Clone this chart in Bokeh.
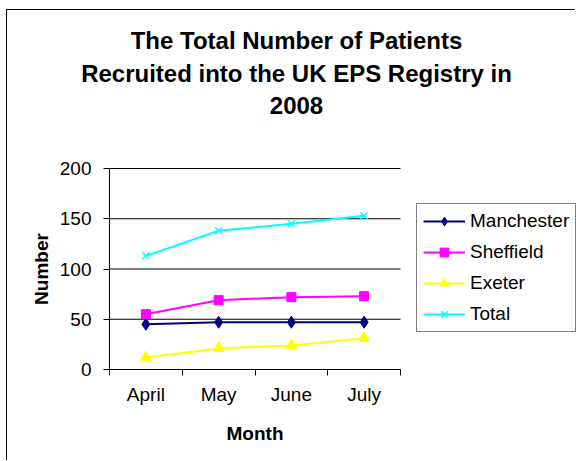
import numpy as np
from bokeh.plotting import figure
from bokeh.models import Range1d, FixedTicker, Legend, LegendItem, Label
from bokeh.embed import file_html
from bokeh.resources import INLINE

# ---- data ----
months = ["April", "May", "June", "July"]
manchester = [45, 47, 47, 47]
sheffield = [55, 69, 72, 73]
exeter = [12, 21, 24, 31]
total = [113, 138, 145, 153]
y_ticks = [0, 50, 100, 150, 200]
title_lines = ["The Total Number of Patients",
               "Recruited into the UK EPS Registry in",
               "2008"]
series_names = ["Manchester", "Sheffield", "Exeter", "Total"]

FONT = "Liberation Sans"
W, H = 569, 451            # canvas, placed at page (7, 10) inside a 1px frame
LEFT, BOTTOM = 102, 92     # plot-area offsets inside the canvas
PLOT_W, PLOT_H = 291, 201  # pixel size of the plot area (x 0..n, y 0..ymax)

n = len(months)
ymax = y_ticks[-1]
xs_per_px = n / PLOT_W
ys_per_px = ymax / PLOT_H

p = figure(width=W, height=H, output_backend="svg", toolbar_location=None,
           x_range=Range1d(-LEFT * xs_per_px, (W - LEFT) * xs_per_px),
           y_range=Range1d(-BOTTOM * ys_per_px, (H - BOTTOM) * ys_per_px),
           min_border=0, min_border_left=0, min_border_right=0,
           min_border_top=0, min_border_bottom=0)
p.styles = {"border-left": "1px solid black", "border-top": "1px solid black",
            "margin-left": "6px", "margin-top": "9px"}
p.background_fill_color = "white"
p.border_fill_color = "white"
p.outline_line_color = None

x = np.arange(n) + 0.5

# ---- axes (placed at the origin of the plot area) ----
xa = p.xaxis[0]
xa.fixed_location = 0
xa.bounds = (0, n)
xa.ticker = FixedTicker(ticks=[float(v) for v in x],
                        minor_ticks=[float(v) for v in range(n + 1)])
xa.major_label_overrides = {float(xi): m for xi, m in zip(x, months)}
xa.major_tick_line_color = None
xa.major_tick_out = 0
xa.major_tick_in = 0
xa.minor_tick_line_color = "black"
xa.minor_tick_out = 6
xa.minor_tick_in = 0
xa.axis_line_color = "black"
xa.major_label_standoff = 8
xa.major_label_text_font = FONT
xa.major_label_text_font_size = "19px"
xa.major_label_text_color = "black"

ya = p.yaxis[0]
ya.fixed_location = 0
ya.bounds = (0, ymax)
ya.ticker = FixedTicker(ticks=y_ticks, minor_ticks=[])
ya.major_tick_line_color = "black"
ya.major_tick_out = 6
ya.major_tick_in = 0
ya.minor_tick_line_color = None
ya.axis_line_color = "black"
ya.major_label_standoff = 12
ya.major_label_text_font = FONT
ya.major_label_text_font_size = "19px"
ya.major_label_text_color = "black"

p.xgrid.visible = False
p.ygrid.visible = False
# horizontal gridlines limited to the plot area (x from 0 to n)
p.segment(x0=[0] * len(y_ticks), x1=[n] * len(y_ticks), y0=y_ticks, y1=y_ticks,
          line_color="black", line_width=1)

# ---- axis titles ----
p.add_layout(Label(x=n / 2, y=28.4, x_units="data", y_units="screen",
                   text="Month", text_align="center", text_baseline="alphabetic",
                   text_font=FONT, text_font_style="bold", text_font_size="19px",
                   text_color="black"))
p.add_layout(Label(x=34.3, y=ymax / 2, x_units="screen", y_units="data",
                   text="Number", angle=np.pi / 2, text_align="center",
                   text_baseline="alphabetic",
                   text_font=FONT, text_font_style="bold", text_font_size="19px",
                   text_color="black"))

# ---- series ----
styles = [("#000080", "diamond", 12),
          ("#FF00FF", "square", 9),
          ("#FFFF00", "triangle", 11),
          ("#00FFFF", "x", 10)]
values = [manchester, sheffield, exeter, total]

items = []
for name, vals, (col, mk, sz) in zip(series_names, values, styles):
    lr = p.line(x, vals, line_color=col, line_width=2)
    sr = p.scatter(x, vals, marker=mk, size=sz, fill_color=col,
                   line_color=col, line_width=1.5 if mk == "x" else 1)
    items.append(LegendItem(label=name, renderers=[lr, sr]))

legend = Legend(items=items, location=(409, 129),
                padding=6, spacing=9, glyph_width=42, glyph_height=22,
                label_height=22, label_standoff=5,
                label_text_font=FONT, label_text_font_size="19px",
                label_text_color="black",
                border_line_color="black", border_line_width=1,
                background_fill_color="white")
p.add_layout(legend)

# ---- chart title (three centred lines) ----
for i, line in enumerate(title_lines):
    p.add_layout(Label(x=289, y=421 - i * 32.5, x_units="screen", y_units="screen",
                       text=line, text_align="center", text_baseline="alphabetic",
                       text_font=FONT, text_font_style="bold",
                       text_font_size="24px", text_color="black"))

open("out.html", "w").write(file_html(p, INLINE))
